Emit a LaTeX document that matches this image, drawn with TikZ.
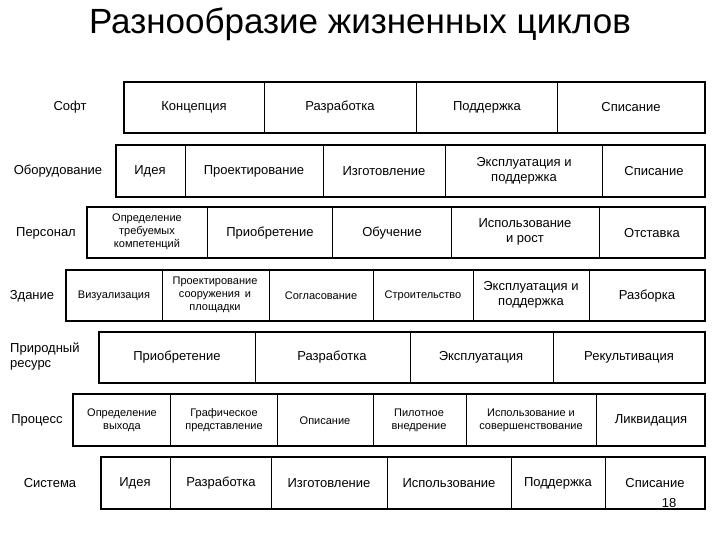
\documentclass[tikz,border=0pt]{standalone}
\usepackage{fontspec}
\setmainfont{Liberation Sans}
\begin{document}
\begin{tikzpicture}[x=1pt,y=-1pt,
  outer/.style={draw,line width=2.6pt},
  div/.style={line width=0.8pt},
  t/.style={font=\fontsize{13}{15}\selectfont,align=center,inner sep=0},
  s/.style={font=\fontsize{11}{13}\selectfont,align=center,inner sep=0},
  lab/.style={font=\fontsize{13}{15}\selectfont,align=center,inner sep=0}]
\useasboundingbox (0,0) rectangle (720,540);
\node[font=\fontsize{35}{40}\selectfont] (title) at (360,24) {Разнообразие жизненных циклов};
% Row 1
\draw[outer] (124,82) rectangle (705,133);
\foreach \x in {264,416,557} \draw[div] (\x,82) -- (\x,133);
\node[lab] (l1) at (70,107) {Софт};
\node[t] (a1) at (194,107) {Концепция};
\node[t] (a2) at (340,107) {Разработка};
\node[t] (a3) at (487,107) {Поддержка};
\node[t] (a4) at (631,107) {Списание};
% Row 2
\draw[outer] (116,145) rectangle (705,197);
\foreach \x in {185,323,445,602} \draw[div] (\x,145) -- (\x,197);
\node[lab] (l2) at (58,171) {Оборудование};
\node[t] (b1) at (150,171) {Идея};
\node[t] (b2) at (254,171) {Проектирование};
\node[t] (b3) at (384,171) {Изготовление};
\node[t] (b4) at (524,171) {Эксплуатация и\\поддержка};
\node[t] (b5) at (654,171) {Списание};
% Row 3
\draw[outer] (87,207) rectangle (705,258);
\foreach \x in {207,332,451,599} \draw[div] (\x,207) -- (\x,258);
\node[lab] (l3) at (46,233) {Персонал};
\node[s] (c1) at (147,232) {Определение\\требуемых\\компетенций};
\node[t] (c2) at (270,233) {Приобретение};
\node[t] (c3) at (392,233) {Обучение};
\node[t] (c4) at (525,232) {Использование\\и рост};
\node[t] (c5) at (652,233) {Отставка};
% Row 4
\draw[outer] (66,270) rectangle (705,321);
\foreach \x in {162,269,373,473,589} \draw[div] (\x,270) -- (\x,321);
\node[lab] (l4) at (32,296) {Здание};
\node[s] (d1) at (114,296) {Визуализация};
\node[s] (d2) at (215,295) {Проектирование\\сооружения\, и\\площадки};
\node[s] (d3) at (321,296) {Согласование};
\node[s] (d4) at (423,296) {Строительство};
\node[t] (d5) at (531,295) {Эксплуатация и\\поддержка};
\node[t] (d6) at (647,296) {Разборка};
% Row 5
\draw[outer] (99,332) rectangle (705,383);
\foreach \x in {255,410,553} \draw[div] (\x,332) -- (\x,383);
\node[lab,align=left,anchor=west] (l5) at (10,357) {Природный\\ресурс};
\node[t] (e1) at (177,357) {Приобретение};
\node[t] (e2) at (332,357) {Разработка};
\node[t] (e3) at (481,357) {Эксплуатация};
\node[t] (e4) at (629,357) {Рекультивация};
% Row 6
\draw[outer] (73,394) rectangle (705,446);
\foreach \x in {170,277,373,466,596} \draw[div] (\x,394) -- (\x,446);
\node[lab] (l6) at (37,420) {Процесс};
\node[s] (f1) at (122,420) {Определение\\выхода};
\node[s] (f2) at (224,420) {Графическое\\представление};
\node[s] (f3) at (325,421) {Описание};
\node[s] (f4) at (419,420) {Пилотное\\внедрение};
\node[s] (f5) at (531,420) {Использование и\\совершенствование};
\node[t] (f6) at (651,420) {Ликвидация};
% Row 7
\draw[outer] (101,457) rectangle (705,509);
\foreach \x in {170,271,387,511,605} \draw[div] (\x,457) -- (\x,509);
\node[lab] (l7) at (50,483) {Система};
\node[t] (g1) at (135,483) {Идея};
\node[t] (g2) at (221,483) {Разработка};
\node[t] (g3) at (329,483) {Изготовление};
\node[t] (g4) at (449,483) {Использование};
\node[t] (g5) at (558,483) {Поддержка};
\node[t] (g6) at (655,483) {Списание};
\node[t] (pg) at (669,503) {18};
\end{tikzpicture}
\end{document}
